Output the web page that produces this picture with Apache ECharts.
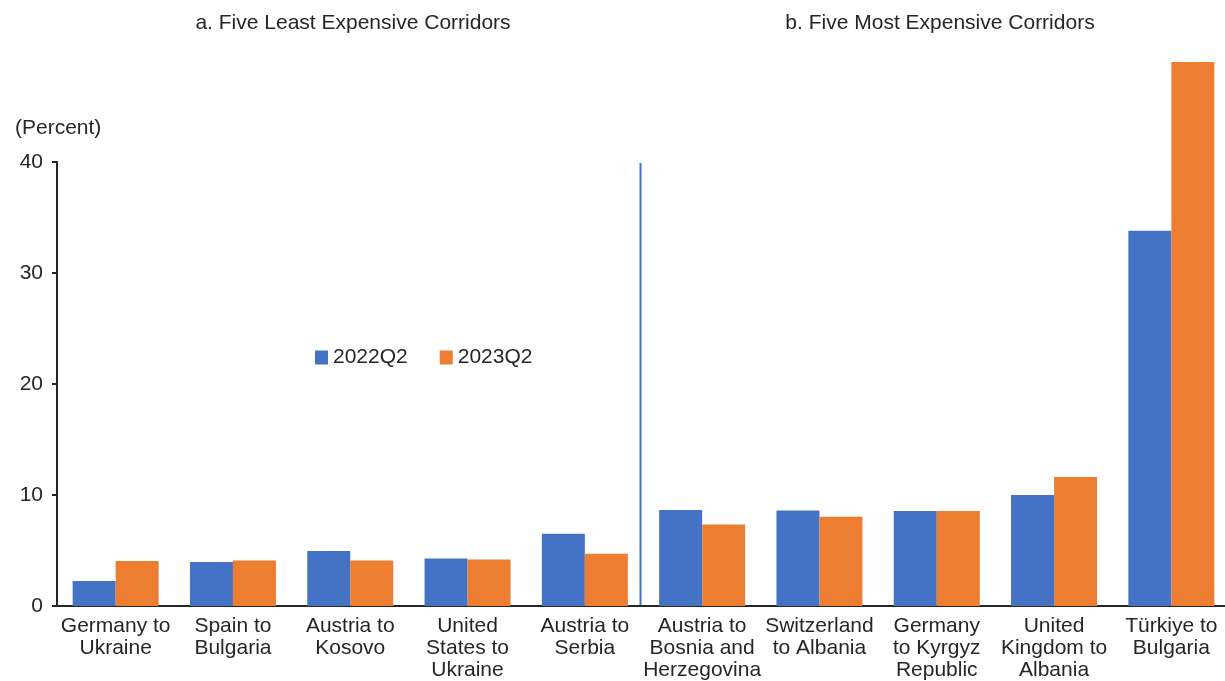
<!DOCTYPE html>
<html>
<head>
<meta charset="utf-8">
<script src="https://cdn.jsdelivr.net/npm/echarts@6/dist/echarts.min.js"></script>
<style>
  html, body { margin: 0; padding: 0; background: #fff; }
  #chart { width: 1225px; height: 681px; }
</style>
</head>
<body>
<div id="chart"></div>
<script>
// corridors: five least expensive, then five most expensive
var corridors = [
  'Germany to\nUkraine', 'Spain to\nBulgaria', 'Austria to\nKosovo',
  'United\nStates to\nUkraine', 'Austria to\nSerbia',
  'Austria to\nBosnia and\nHerzegovina', 'Switzerland\nto Albania',
  'Germany\nto Kyrgyz\nRepublic', 'United\nKingdom to\nAlbania', 'Türkiye to\nBulgaria'
];
var cost2022Q2 = [2.25, 3.96, 4.95, 4.27, 6.5, 8.65, 8.6, 8.55, 10.0, 33.8];
var cost2023Q2 = [4.05, 4.1, 4.1, 4.2, 4.7, 7.35, 8.04, 8.55, 11.63, 49.0];
var yTicks = [0, 10, 20, 30, 40];

var font = '"Liberation Sans", Arial, sans-serif';
var textColor = '#262626';

var chart = echarts.init(document.getElementById('chart'));
var option = {
  animation: false,
  title: [
    {
      text: 'a. Five Least Expensive Corridors',
      left: 348, top: 8, textAlign: 'center',
      textStyle: { fontFamily: font, fontSize: 21, fontWeight: 'normal', color: textColor }
    },
    {
      text: 'b. Five Most Expensive Corridors',
      left: 935, top: 8, textAlign: 'center',
      textStyle: { fontFamily: font, fontSize: 21, fontWeight: 'normal', color: textColor }
    },
    {
      text: '(Percent)',
      left: 10, top: 113,
      textStyle: { fontFamily: font, fontSize: 21, fontWeight: 'normal', color: textColor }
    }
  ],
  legend: {
    left: 310, top: 342,
    itemWidth: 13, itemHeight: 14, itemGap: 32,
    icon: 'rect',
    textStyle: { fontFamily: font, fontSize: 21, color: textColor },
    data: ['2022Q2', '2023Q2']
  },
  grid: {
    left: 57, top: 162, width: 1173, bottom: 75,
    containLabel: false, outerBoundsMode: 'none'
  },
  xAxis: {
    type: 'category',
    data: corridors,
    axisLine: { lineStyle: { color: '#262626', width: 2 } },
    axisTick: { show: false },
    axisLabel: {
      fontFamily: font, fontSize: 21, color: textColor,
      lineHeight: 22, margin: 9, interval: 0
    },
    splitLine: { show: false }
  },
  yAxis: {
    type: 'value',
    min: yTicks[0], max: yTicks[yTicks.length - 1], interval: 10,
    axisLine: { show: true, lineStyle: { color: '#262626', width: 2 } },
    axisTick: { show: true, length: 5, lineStyle: { color: '#262626', width: 2 } },
    axisLabel: { fontFamily: font, fontSize: 21, color: textColor, margin: 14 },
    splitLine: { show: false }
  },
  series: [
    {
      name: '2022Q2', type: 'bar', data: cost2022Q2,
      barWidth: 43, barGap: '0%', clip: false,
      itemStyle: { color: '#4472C4' }
    },
    {
      name: '2023Q2', type: 'bar', data: cost2023Q2,
      barWidth: 43, barGap: '0%', clip: false,
      itemStyle: { color: '#ED7D31' }
    }
  ]
};
chart.setOption(option);

// divider between panel a and panel b, placed through the axes' own scales
var xa = chart.convertToPixel({ xAxisIndex: 0 }, 4);
var xb = chart.convertToPixel({ xAxisIndex: 0 }, 5);
var yTop = chart.convertToPixel({ yAxisIndex: 0 }, yTicks[yTicks.length - 1]);
var yBottom = chart.convertToPixel({ yAxisIndex: 0 }, yTicks[0]);
var xDiv = (xa + xb) / 2 - 3;
chart.setOption({
  graphic: [{
    type: 'line',
    shape: { x1: xDiv, y1: yTop + 1, x2: xDiv, y2: yBottom },
    style: { stroke: '#4472C4', lineWidth: 2 }
  }]
});
</script>
</body>
</html>
